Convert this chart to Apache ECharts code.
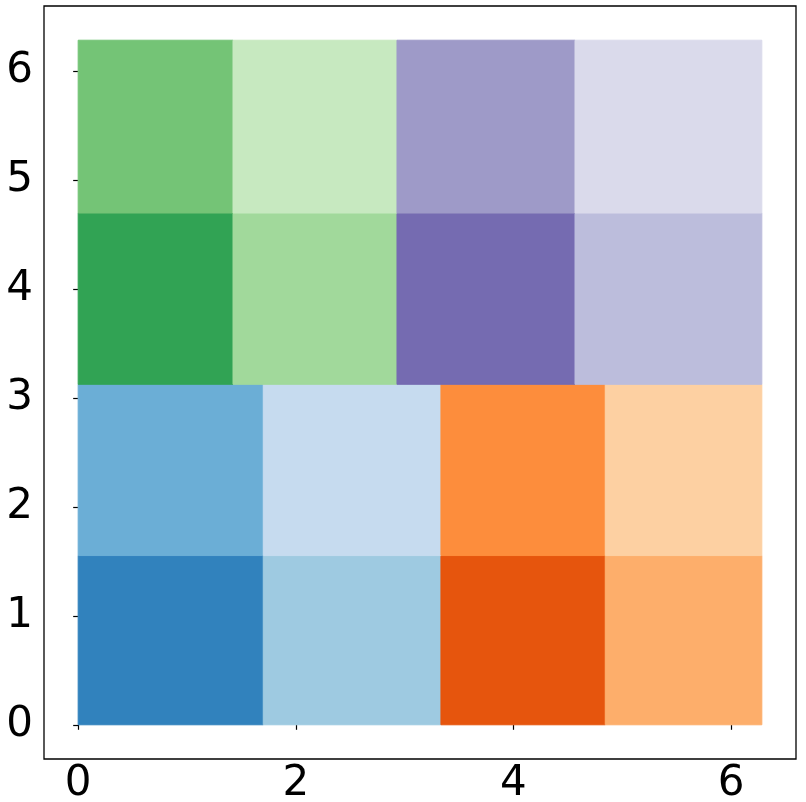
<!DOCTYPE html>
<html>
<head>
<meta charset="utf-8">
<script src="https://cdn.jsdelivr.net/npm/echarts@6/dist/echarts.min.js"></script>
<style>
  html, body { margin: 0; padding: 0; background: #fff; }
  #main { width: 806px; height: 802px; }
</style>
</head>
<body>
<div id="main"></div>
<script>
// row boundaries (y) and column boundaries (x)
var yEdges = [0, 1.553, 3.125, 4.697, 6.283];
var xEdgesLow = [0, 1.701, 3.334, 4.844, 6.283];   // two bottom rows
var xEdgesHigh = [0, 1.423, 2.930, 4.566, 6.283];  // two top rows

// tab20c colours, one row of cells per list (bottom to top)
var rowColors = [
    ['#3182bd', '#9ecae1', '#e6550d', '#fdae6b'],
    ['#6baed6', '#c6dbef', '#fd8d3c', '#fdd0a2'],
    ['#31a354', '#a1d99b', '#756bb1', '#bcbddc'],
    ['#74c476', '#c7e9c0', '#9e9ac8', '#dadaeb']
];

var xTicks = [0, 2, 4, 6];
var yTicks = [0, 1, 2, 3, 4, 5, 6];

var cells = [];
for (var r = 0; r < 4; r++) {
    var xe = r < 2 ? xEdgesLow : xEdgesHigh;
    for (var c = 0; c < 4; c++) {
        cells.push({
            value: [xe[c], xe[c + 1], yEdges[r], yEdges[r + 1]],
            itemStyle: { color: rowColors[r][c] }
        });
    }
}

var myChart = echarts.init(document.getElementById('main'));

var labelFont = {
    fontFamily: 'DejaVu Sans',
    fontSize: 42,
    color: '#000'
};

option = {
    animation: false,
    grid: {
        left: 44,
        right: 10,
        top: 6,
        bottom: 43,
        outerBoundsMode: 'none',
        show: true,
        borderColor: '#000',
        borderWidth: 1.3,
        backgroundColor: '#fff'
    },
    xAxis: {
        type: 'value',
        min: -0.314,
        max: 6.597,
        axisLine: { show: false },
        splitLine: { show: false },
        axisTick: {
            show: true,
            length: 5,
            customValues: xTicks,
            lineStyle: { color: '#000', width: 1.2 }
        },
        axisLabel: Object.assign({
            customValues: xTicks,
            margin: 4
        }, labelFont)
    },
    yAxis: {
        type: 'value',
        min: -0.314,
        max: 6.597,
        axisLine: { show: false },
        splitLine: { show: false },
        axisTick: {
            show: true,
            length: 5,
            customValues: yTicks,
            lineStyle: { color: '#000', width: 1.2 }
        },
        axisLabel: Object.assign({
            customValues: yTicks,
            margin: 11
        }, labelFont)
    },
    series: [
        {
            type: 'custom',
            encode: { x: [0, 1], y: [2, 3] },
            renderItem: function (params, api) {
                var p0 = api.coord([api.value(0), api.value(3)]);
                var p1 = api.coord([api.value(1), api.value(2)]);
                var color = api.visual('color');
                return {
                    type: 'rect',
                    shape: {
                        x: p0[0],
                        y: p0[1],
                        width: p1[0] - p0[0],
                        height: p1[1] - p0[1]
                    },
                    style: {
                        fill: color,
                        stroke: color,
                        lineWidth: 1
                    }
                };
            },
            data: cells
        }
    ]
};

myChart.setOption(option);
</script>
</body>
</html>
